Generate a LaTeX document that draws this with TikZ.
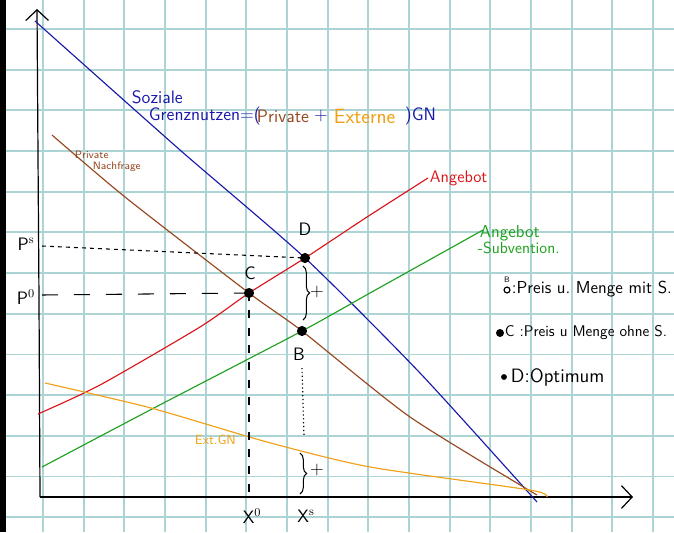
\documentclass[tikz,border=0pt]{standalone}
\usepackage{xcolor}
\usepackage{tikz}
\usetikzlibrary{calc,arrows.meta,positioning,decorations.pathreplacing}

\definecolor{gridteal}{RGB}{172,212,212}
\definecolor{sgnblue}{RGB}{25,25,170}
\definecolor{nachbrown}{RGB}{150,70,30}
\definecolor{angred}{RGB}{220,20,25}
\definecolor{subgreen}{RGB}{30,160,30}
\definecolor{extorange}{RGB}{240,160,20}

\begin{document}
\begin{tikzpicture}[x=0.75pt,y=-0.75pt,
    gridline/.style={gridteal, line width=1.3pt},
    curve/.style={line width=0.85pt},
    lbl/.style={font=\sffamily\fontsize{13.5}{15}\selectfont, inner sep=0.5pt},
    small lbl/.style={font=\sffamily\fontsize{8}{9}\selectfont, inner sep=0.5pt},
    axis/.style={black, line width=0.9pt, -{Straight Barb[length=8pt,width=17pt]}}]
    \useasboundingbox (0,0) rectangle (674,532);
    \fill[white] (0,0) rectangle (674,532);

    % paper grid
    \foreach \i in {0,...,16}
        \draw[gridline] ({2.3+40.67*\i},0) -- ({2.3+40.67*\i},532);
    \foreach \j in {0,...,12}
        \draw[gridline] (0,{29+40.67*\j}) -- (674,{29+40.67*\j});
    \fill[black] (0,0) rectangle (6,532);

    \coordinate (O) at (40,497);
    \coordinate (D) at (305,258);
    \coordinate (C) at (249,293);
    \coordinate (B) at (302,331);

    % axes
    \draw[axis] (O) -- (39,300) -- (37,9);
    \draw[axis] (O) -- (300,497) -- (633,497);

    % curves
    \draw[sgnblue, curve] plot[smooth, tension=0.4] coordinates
        {(35,21) (180,150) (D) (420,373) (537,502)};
    \draw[nachbrown, curve] plot[smooth, tension=0.4] coordinates
        {(52,135) (125,197) (C) (B) (410,417) (537,495)};
    \draw[angred, curve] plot[smooth, tension=0.4] coordinates
        {(38,414) (100,385) (200,327) (C) (D) (367,217) (428,178)};
    \draw[subgreen, curve] plot[smooth, tension=0.4] coordinates
        {(42,467) (152,409) (B) (370,293) (483,230)};
    \draw[extorange, curve] plot[smooth, tension=0.4] coordinates
        {(45,383) (151,408) (267,442) (370,467) (530,490) (547,497)};

    % guide lines
    \coordinate (Ps) at (42,246);
    \coordinate (P0) at (42,295);
    \coordinate (X0) at (249,497);
    \coordinate (Bdot1) at (302,368);
    \coordinate (Bdot2) at (304,437);
    \draw[black, dashed, line width=0.8pt] (Ps) -- (D);
    \draw[black, dash pattern=on 12pt off 12pt, line width=0.8pt] (P0) -- (C);
    \draw[black, dash pattern=on 6pt off 7pt, line width=0.8pt] (C) -- (X0);
    \draw[black, dotted, line width=0.9pt] (Bdot1) -- (Bdot2);

    % braces
    \draw[black, line width=0.8pt, decorate, decoration={brace, amplitude=5pt}]
        (303,266) -- (303,320);
    \draw[black, line width=0.8pt, decorate, decoration={brace, amplitude=5pt}]
        (300,453) -- (300,494);

    \fill[black] (D) circle (3.8pt);
    \fill[black] (C) circle (3.8pt);
    \fill[black] (B) circle (3.8pt);

    % labels
    \node[lbl, sgnblue, anchor=west] (soz) at (131,97) {Soziale};
    \node[lbl, sgnblue, anchor=west] (gn) at (148,116) {Grenznutzen=(};
    \node[lbl, nachbrown, anchor=west] (gnpriv) at (256,116) {Private};
    \node[lbl, sgnblue] (gnplus) at (321,116) {+};
    \node[lbl, extorange, anchor=west, font=\sffamily\fontsize{15.5}{17}\selectfont] (gnext) at (333,116) {Externe};
    \node[lbl, sgnblue, anchor=west] (gnend) at (404,116) {)GN};
    \node[small lbl, nachbrown, anchor=west] (priv1) at (74,155) {Private};
    \node[small lbl, nachbrown, anchor=west] (priv2) at (92,167) {Nachfrage};
    \node[lbl, angred, anchor=west, font=\sffamily\fontsize{12.5}{14}\selectfont] (ang) at (429,178) {Angebot};
    \node[lbl, subgreen, anchor=west, font=\sffamily\fontsize{13}{14}\selectfont] (angs1) at (479,233) {Angebot};
    \node[lbl, subgreen, anchor=west, font=\sffamily\fontsize{12}{13}\selectfont] (angs2) at (477,248) {-Subvention.};
    \node[lbl, extorange, anchor=west, font=\sffamily\fontsize{10}{11}\selectfont] (extgn) at (194,440) {Ext.GN};

    \node[lbl] (labD) at (305,229) {D};
    \node[lbl] (labC) at (250,273) {C};
    \node[lbl] (labB) at (299,354) {B};
    \node[lbl] (labPs) at (26,244) {P$^{\mathrm{s}}$};
    \node[lbl] (labP0) at (26,297) {P$^{0}$};
    \node[lbl] (labX0) at (252,516) {X$^{0}$};
    \node[lbl] (labXs) at (306,516) {X$^{\mathrm{s}}$};
    \node[lbl] (plus1) at (317,292) {+};
    \node[lbl] (plus2) at (317,470) {+};

    % legend
    \draw[black, line width=0.9pt] (507,290) circle (2.2pt);
    \node[small lbl, font=\sffamily\fontsize{6}{6}\selectfont] (legB) at (507,280) {B};
    \node[lbl, anchor=west, font=\sffamily\fontsize{13}{14}\selectfont] (leg1) at (511,289) {:Preis u.\ Menge mit S.};
    \fill[black] (500,333) circle (3pt);
    \node[lbl, anchor=west, font=\sffamily\fontsize{11.6}{13}\selectfont] (leg2) at (504,333) {C :Preis u Menge ohne S.};
    \fill[black] (504,377) circle (2.2pt);
    \node[lbl, anchor=west, font=\sffamily\fontsize{14.5}{16}\selectfont] (leg3) at (510,377) {D:Optimum};
\end{tikzpicture}
\end{document}
